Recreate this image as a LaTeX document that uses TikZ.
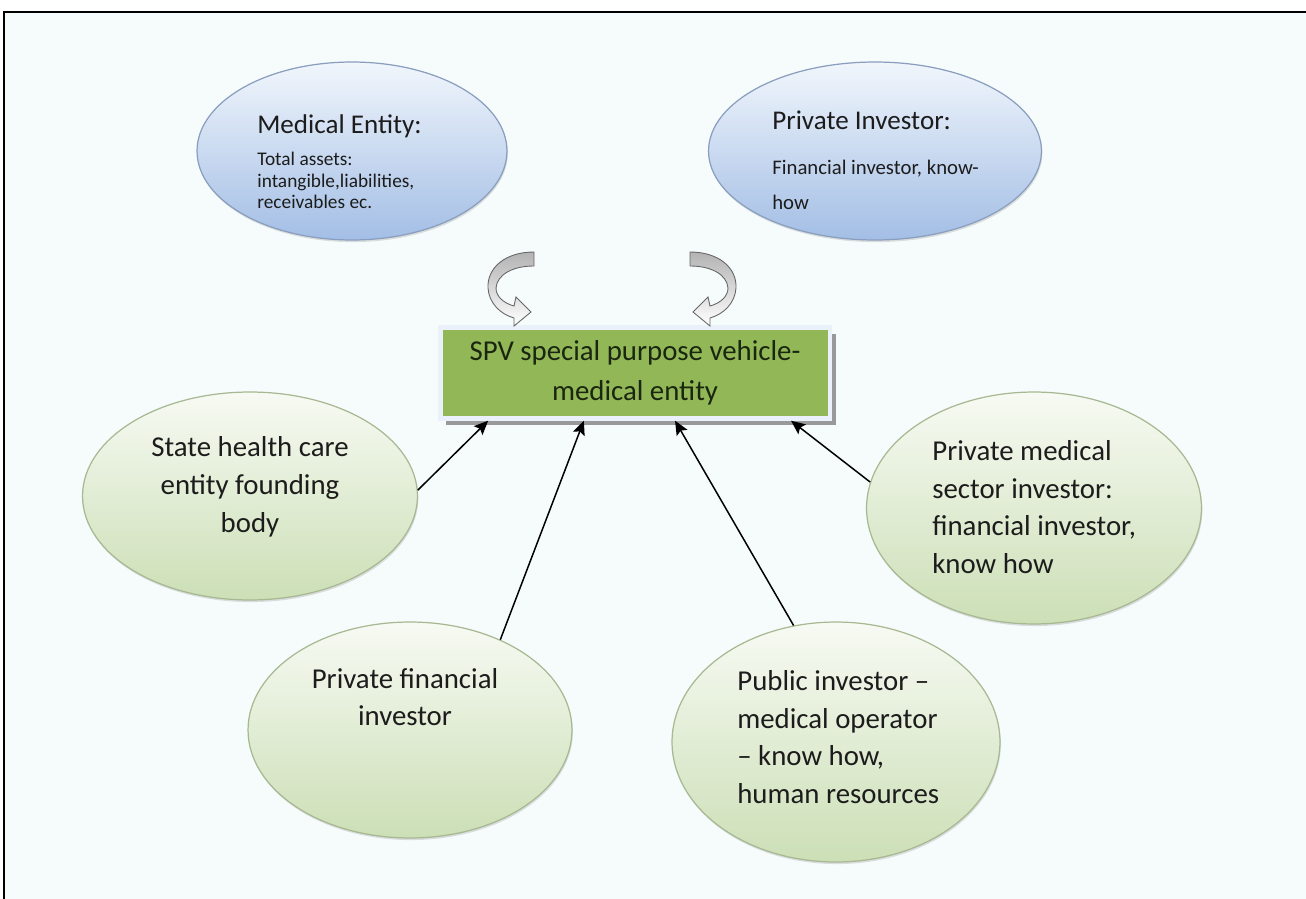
\documentclass[tikz,border=0pt]{standalone}
\usepackage{fontspec}
\setmainfont{Carlito}
\usepackage{tikz}
\usetikzlibrary{arrows.meta,positioning,shapes,shapes.geometric,shadows}

\definecolor{pagetint}{RGB}{246,252,252}
\definecolor{spvgreen}{RGB}{146,183,86}
\definecolor{spvrim}{RGB}{234,241,250}
\definecolor{spvtext}{RGB}{26,38,16}
\definecolor{leaftop}{RGB}{247,250,243}
\definecolor{leafbot}{RGB}{204,223,182}
\definecolor{leafrim}{RGB}{168,184,146}
\definecolor{skytop}{RGB}{241,246,252}
\definecolor{skybot}{RGB}{163,190,229}
\definecolor{skyrim}{RGB}{138,158,190}
\definecolor{inktext}{RGB}{28,28,28}

\begin{document}
\begin{tikzpicture}[x=0.02cm, y=-0.02cm]
\useasboundingbox (0,0) rectangle (1306,899);
\fill[pagetint] (4,12) rectangle (1306,899);
\draw[line width=1.1pt] (4,899) -- (4,12) -- (1306,12);

\tikzstyle{skynode}=[ellipse, draw=skyrim, line width=0.7pt, inner sep=0pt,
  top color=skytop, bottom color=skybot,
  drop shadow={opacity=0.25, shadow xshift=0.5pt, shadow yshift=-1.2pt}]
\tikzstyle{leafnode}=[ellipse, draw=leafrim, line width=0.7pt, inner sep=0pt,
  top color=leaftop, bottom color=leafbot,
  drop shadow={opacity=0.25, shadow xshift=0.5pt, shadow yshift=-1.2pt}]
\tikzstyle{bodytext}=[inner sep=0pt, text=inktext, font=\fontsize{16.4}{21.5}\selectfont]

\node[skynode, minimum width=6.2cm, minimum height=3.56cm] (med) at (352,151) {};
\node[skynode, minimum width=6.66cm, minimum height=3.56cm] (priv) at (875,151) {};
\node[leafnode, minimum width=6.7cm, minimum height=4.16cm] (state) at (250,496) {};
\node[leafnode, minimum width=6.48cm, minimum height=4.32cm] (pfin) at (410,730) {};
\node[leafnode, minimum width=6.56cm, minimum height=4.8cm] (pub) at (836,742) {};
\node[leafnode, minimum width=6.7cm, minimum height=4.64cm] (pmed) at (1034,508) {};

\node[bodytext, anchor=west, align=left, font=\fontsize{11}{12.2}\selectfont] (medtxt) at (257,162)
  {{\fontsize{15.4}{17}\selectfont Medical Entity:}\\[6pt]Total assets:\\intangible,liabilities,\\receivables ec.};
\node[bodytext, anchor=west, align=left, font=\fontsize{11.8}{19.8}\selectfont] (privtxt) at (772,160)
  {{\fontsize{15.4}{17}\selectfont Private Investor:}\\[5.7pt]Financial investor, know-\\how};
\node[bodytext, align=center] (statetxt) at (250,487) {State health care\\entity founding\\body};
\node[bodytext, align=center] (pfintxt) at (405,697) {Private financial\\investor};
\node[bodytext, anchor=west, align=left] (pubtxt) at (737,737)
  {Public investor –\\medical operator\\– know how,\\human resources};
\node[bodytext, anchor=west, align=left] (pmedtxt) at (932,507)
  {Private medical\\sector investor:\\financial investor,\\know how};

\tikzstyle{spvnode}=[rectangle, fill=spvgreen, draw=spvrim, line width=2.8pt,
  minimum width=7.8cm, minimum height=1.81cm, inner sep=0pt, align=center,
  text=spvtext, font=\fontsize{16.4}{22.7}\selectfont,
  drop shadow={shadow xshift=3.4pt, shadow yshift=-3.8pt, fill=black!40, opacity=1}]
\node[spvnode] (spv) at (635,373) {SPV special purpose vehicle-\\medical entity};

\tikzstyle{inarrow}=[-{Stealth[length=8pt, width=7pt, inset=1.5pt]}, line width=0.85pt, black]
\draw[inarrow] (state.2) -- (spv.-162);
\draw[inarrow] (pfin.45) -- (spv.-137);
\draw[inarrow] (pub.110) -- (spv.-50);
\draw[inarrow] (pmed.171) -- (spv.-17);

% the two turning arrows, second one mirrored
\tikzstyle{turnarrow}=[draw=black!60, line width=0.5pt, top color=black!30, bottom color=white]
\foreach \flip/\mid in {1/0,-1/1224}
  \path[turnarrow, shift={(\mid,0)}, xscale=\flip]
    (534,252) .. controls (505,252) and (487,268) .. (488,288)
    .. controls (489,303) and (500,314) .. (514,318)
    -- (514,326) -- (531,312) -- (516,297) -- (514,306)
    .. controls (503,303) and (496,296) .. (496,288)
    .. controls (497,275) and (512,266) .. (534,266) -- cycle;
\end{tikzpicture}
\end{document}
